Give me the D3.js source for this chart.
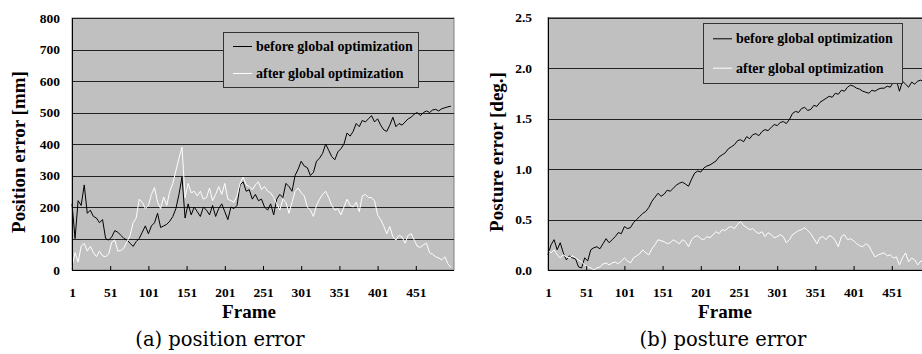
<!DOCTYPE html>
<html>
<head>
<meta charset="utf-8">
<script src="https://cdn.jsdelivr.net/npm/d3@7"></script>
<style>
  body { margin: 0; background: #fff; }
</style>
</head>
<body>
<div id="chart"></div>
<script>
// frame categories (one sample every 4 frames) and axis ticks
const frames = d3.range(1, 501, 4);
const frameTicks = [1, 51, 101, 151, 201, 251, 301, 351, 401, 451];
const seriesNames = ['before global optimization', 'after global optimization'];

// (a) position error [mm]
const posTicks = [0, 100, 200, 300, 400, 500, 600, 700, 800];
const posBefore = [
  210, 100, 220, 205, 270, 180, 190, 170, 165, 150,
  160, 100, 95, 105, 125, 120, 110, 100, 95, 85,
  75, 90, 100, 120, 140, 115, 140, 150, 180, 135,
  140, 145, 155, 170, 195, 240, 295, 165, 210, 175,
  200, 185, 170, 200, 190, 175, 205, 170, 195, 210,
  185, 160, 200, 195, 205, 270, 280, 250, 255, 225,
  240, 220, 225, 200, 190, 210, 175, 225, 240, 230,
  275, 265, 250, 300, 320, 345, 330, 325, 300, 310,
  345, 355, 370, 400, 380, 360, 350, 375, 385, 400,
  435, 425, 440, 465, 455, 475, 470, 480, 490, 470,
  480, 460, 445, 440, 460, 485, 455, 465, 460, 470,
  480, 485, 495, 500, 490, 500, 505, 500, 508, 510,
  505, 512, 515, 518, 520
];
const posAfter = [
  10, 55, 25, 75, 85, 60, 75, 55, 42, 60,
  45, 42, 50, 88, 95, 60, 62, 70, 90, 110,
  150, 165, 225, 215, 195, 205, 240, 262, 215, 195,
  232, 205, 250, 275, 315, 355, 390, 230, 275, 245,
  250, 235, 250, 225, 230, 260, 220, 240, 265, 240,
  275, 225, 220, 215, 235, 275, 295, 270, 265, 255,
  270, 280, 255, 265, 250, 245, 230, 210, 190, 225,
  215, 180, 215, 250, 260, 245, 235, 200, 190, 170,
  205, 225, 240, 250, 230, 205, 190, 195, 175, 200,
  225, 205, 200, 215, 185, 235, 240, 230, 230, 220,
  175, 160, 140, 115, 138, 105, 95, 110, 105, 85,
  110, 115, 95, 75, 72, 80, 85, 55, 50, 42,
  38, 32, 42, 20, 8
];

// (b) posture error [deg.]
const postTicks = [0, 0.5, 1.0, 1.5, 2.0, 2.5];
const postBefore = [
  0.15, 0.25, 0.30, 0.20, 0.27, 0.17, 0.10, 0.14, 0.12, 0.11,
  0.03, 0.02, 0.12, 0.09, 0.20, 0.22, 0.23, 0.21, 0.26, 0.31,
  0.27, 0.30, 0.33, 0.37, 0.36, 0.43, 0.41, 0.42, 0.47, 0.50,
  0.53, 0.56, 0.58, 0.62, 0.68, 0.72, 0.76, 0.73, 0.75, 0.79,
  0.78, 0.81, 0.84, 0.86, 0.87, 0.85, 0.83, 0.90, 0.96, 0.98,
  0.97, 1.01, 1.03, 1.04, 1.06, 1.08, 1.12, 1.14, 1.16, 1.20,
  1.22, 1.24, 1.28, 1.29, 1.27, 1.32, 1.30, 1.34, 1.35, 1.33,
  1.37, 1.39, 1.38, 1.41, 1.44, 1.43, 1.46, 1.47, 1.45, 1.49,
  1.55, 1.57, 1.56, 1.60, 1.61, 1.58, 1.59, 1.63, 1.62, 1.66,
  1.68, 1.70, 1.72, 1.71, 1.75, 1.74, 1.78, 1.77, 1.81, 1.83,
  1.82, 1.80, 1.79, 1.77, 1.76, 1.75, 1.78, 1.77, 1.79, 1.80,
  1.80, 1.82, 1.81, 1.86, 1.88, 1.77, 1.87, 1.84, 1.81, 1.86,
  1.84, 1.87, 1.88, 1.86, 1.87
];
const postAfter = [
  0.20, 0.17, 0.20, 0.15, 0.12, 0.15, 0.13, 0.12, 0.14, 0.12,
  0.10, 0.08, 0.05, 0.03, 0.02, 0.00, 0.02, 0.03, 0.06, 0.07,
  0.05, 0.07, 0.08, 0.06, 0.09, 0.12, 0.09, 0.07, 0.12, 0.14,
  0.16, 0.20, 0.17, 0.15, 0.21, 0.25, 0.30, 0.29, 0.28, 0.26,
  0.27, 0.30, 0.28, 0.26, 0.30, 0.28, 0.23, 0.30, 0.33, 0.34,
  0.31, 0.30, 0.33, 0.32, 0.35, 0.38, 0.36, 0.40, 0.39, 0.42,
  0.43, 0.41, 0.45, 0.48, 0.44, 0.42, 0.40, 0.41, 0.38, 0.36,
  0.38, 0.33, 0.37, 0.35, 0.32, 0.33, 0.35, 0.33, 0.27, 0.30,
  0.35, 0.37, 0.39, 0.40, 0.42, 0.39, 0.36, 0.31, 0.26, 0.32,
  0.33, 0.30, 0.34, 0.33, 0.29, 0.23, 0.33, 0.35, 0.30, 0.31,
  0.29, 0.26, 0.24, 0.23, 0.26, 0.24, 0.18, 0.13, 0.15, 0.16,
  0.17, 0.14, 0.15, 0.12, 0.13, 0.05, 0.12, 0.17, 0.08, 0.12,
  0.10, 0.05, 0.09, 0.08, 0.10
];

const width = 922;
const height = 354;
const serif = '"Liberation Serif", "Times New Roman", serif';

const svg = d3.select('#chart').append('svg')
  .attr('width', width)
  .attr('height', height)
  .attr('viewBox', [0, 0, width, height])
  .style('display', 'block')
  .style('background', '#fff');

const drawPanel = (p) => {
  const bottom = 270;
  const plotW = 382;
  const x = d3.scaleLinear().domain([1, 501]).range([p.left, p.left + plotW]);
  const y = d3.scaleLinear().domain([p.yTicks[0], p.yTicks[p.yTicks.length - 1]]).range([bottom, p.top]);
  const g = svg.append('g');

  g.append('rect')
    .attr('x', p.left)
    .attr('y', p.top)
    .attr('width', plotW)
    .attr('height', bottom - p.top)
    .attr('fill', '#c0c0c0')
    .attr('stroke', '#808080');

  // horizontal grid
  g.append('g')
    .selectAll('line')
    .data(p.yTicks.slice(1))
    .join('line')
    .attr('x1', p.left)
    .attr('x2', p.left + plotW)
    .attr('y1', (d) => Math.round(y(d)) + 0.5)
    .attr('y2', (d) => Math.round(y(d)) + 0.5)
    .attr('stroke', '#222');

  const line = d3.line()
    .x((d, i) => x(frames[i]))
    .y((d) => y(d));

  g.append('path')
    .datum(p.before)
    .attr('d', line)
    .attr('fill', 'none')
    .attr('stroke', '#000')
    .attr('stroke-width', 1);

  g.append('path')
    .datum(p.after)
    .attr('d', line)
    .attr('fill', 'none')
    .attr('stroke', '#fff')
    .attr('stroke-width', 1);

  // x axis with inside ticks
  const xAxis = g.append('g')
    .attr('transform', `translate(0,${bottom})`)
    .call(d3.axisBottom(x).tickValues(frameTicks).tickSizeInner(-4).tickSizeOuter(0).tickPadding(17));
  xAxis.select('.domain').remove();
  xAxis.selectAll('.tick line').attr('stroke', '#000');
  xAxis.selectAll('text')
    .attr('font-family', serif)
    .attr('font-weight', 'bold')
    .attr('font-size', 13.5)
    .attr('fill', '#000');

  g.append('line')
    .attr('x1', p.left).attr('x2', p.left + plotW)
    .attr('y1', bottom + 0.5).attr('y2', bottom + 0.5)
    .attr('stroke', '#000');
  g.append('line')
    .attr('x1', p.left + 0.5).attr('x2', p.left + 0.5)
    .attr('y1', p.top).attr('y2', bottom)
    .attr('stroke', '#000');

  // y axis labels
  const yAxis = g.append('g')
    .attr('transform', `translate(${p.left},0)`)
    .call(d3.axisLeft(y).tickValues(p.yTicks).tickSize(0).tickPadding(p.labelPad).tickFormat(p.fmt));
  yAxis.select('.domain').remove();
  yAxis.selectAll('text')
    .attr('font-family', serif)
    .attr('font-weight', 'bold')
    .attr('font-size', 13.5)
    .attr('fill', '#000');

  // axis titles
  g.append('text')
    .attr('transform', `translate(${p.titleX},152) rotate(-90)`)
    .attr('text-anchor', 'middle')
    .attr('font-family', serif)
    .attr('font-weight', 'bold')
    .attr('font-size', 19)
    .text(p.yTitle);

  g.append('text')
    .attr('x', p.left + 177)
    .attr('y', 318)
    .attr('text-anchor', 'middle')
    .attr('font-family', serif)
    .attr('font-weight', 'bold')
    .attr('font-size', 19)
    .text('Frame');

  // caption
  g.append('text')
    .attr('x', p.captionX)
    .attr('y', 346)
    .attr('text-anchor', 'middle')
    .attr('font-family', '"DejaVu Serif", serif')
    .attr('font-size', 19.5)
    .text(p.caption);

  // legend
  const lg = g.append('g').attr('transform', `translate(${p.legend[0]},${p.legend[1]})`);
  lg.append('rect')
    .attr('x', 0.5).attr('y', 0.5)
    .attr('width', p.legend[2]).attr('height', p.legend[3])
    .attr('fill', '#c0c0c0')
    .attr('stroke', '#333');
  const rowY = [p.legend[3] * 0.255, p.legend[3] * 0.745];
  const item = lg.selectAll('g.item')
    .data(seriesNames)
    .join('g')
    .attr('class', 'item')
    .attr('transform', (d, i) => `translate(0,${rowY[i]})`);
  item.append('line')
    .attr('x1', 10).attr('x2', 29)
    .attr('y1', 0.5).attr('y2', 0.5)
    .attr('stroke', (d, i) => (i === 0 ? '#000' : '#fff'));
  item.append('text')
    .attr('x', 33)
    .attr('y', 5)
    .attr('font-family', serif)
    .attr('font-weight', 'bold')
    .attr('font-size', 14)
    .text((d) => d);
};

drawPanel({
  left: 72, top: 18, yTicks: posTicks, fmt: d3.format('d'), labelPad: 12,
  before: posBefore, after: posAfter,
  yTitle: 'Position error [mm]', titleX: 25,
  caption: '(a) position error', captionX: 220,
  legend: [223, 32, 195, 55]
});

drawPanel({
  left: 548, top: 17.5, yTicks: postTicks, fmt: d3.format('.1f'), labelPad: 16,
  before: postBefore, after: postAfter,
  yTitle: 'Posture error [deg.]', titleX: 503,
  caption: '(b) posture error', captionX: 723,
  legend: [703, 23, 199, 60]
});
</script>
</body>
</html>
